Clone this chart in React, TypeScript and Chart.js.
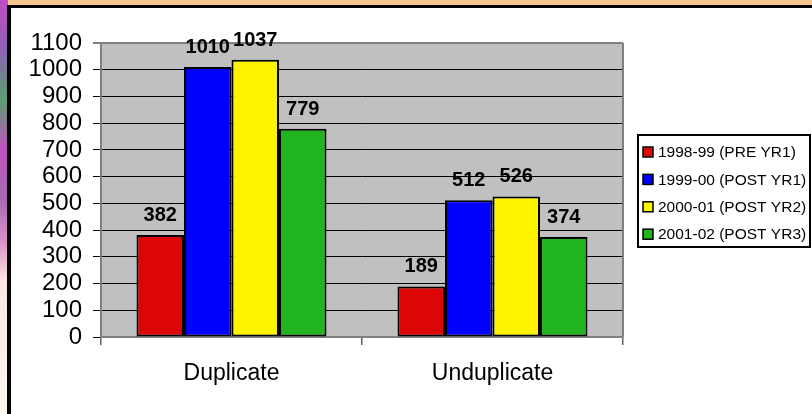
import React, { useEffect, useRef } from "react";
import { Chart, registerables } from "chart.js";

Chart.register(...registerables);

// Chart data
const categories = ["Duplicate", "Unduplicate"];
const seriesLabels = [
  "1998-99 (PRE YR1)",
  "1999-00 (POST YR1)",
  "2000-01 (POST YR2)",
  "2001-02 (POST YR3)",
];
const preYr1 = [382, 189];
const postYr1 = [1010, 512];
const postYr2 = [1037, 526];
const postYr3 = [779, 374];
const seriesColors = ["#dd0606", "#0000ff", "#fff400", "#20b41e"];
const yTicks = { min: 0, max: 1100, step: 100 };

const FONT = '"Liberation Sans", Arial, sans-serif';

// Grey plot background with a grey frame on the right
const plotBackground = {
  id: "plotBackground",
  beforeDraw(chart: any) {
    const { ctx, chartArea: a } = chart;
    ctx.save();
    ctx.fillStyle = "#c0c0c0";
    ctx.fillRect(a.left, a.top, a.right - a.left, a.bottom - a.top);
    ctx.restore();
  },
  afterDraw(chart: any) {
    const { ctx, chartArea: a } = chart;
    ctx.save();
    ctx.strokeStyle = "#808080";
    ctx.lineWidth = 2;
    ctx.beginPath();
    ctx.moveTo(a.right, a.top);
    ctx.lineTo(a.right, a.bottom);
    ctx.stroke();
    ctx.restore();
  },
};

// Bold value labels above each bar
const valueLabels = {
  id: "valueLabels",
  afterDatasetsDraw(chart: any) {
    const { ctx } = chart;
    ctx.save();
    ctx.font = `bold 20px ${FONT}`;
    ctx.fillStyle = "#000";
    ctx.textAlign = "center";
    ctx.textBaseline = "alphabetic";
    chart.data.datasets.forEach((ds: any, di: number) => {
      const meta = chart.getDatasetMeta(di);
      meta.data.forEach((bar: any, i: number) => {
        ctx.fillText(String(ds.data[i]), bar.x, bar.y - 14);
      });
    });
    ctx.restore();
  },
};

// Boxed legend to the right of the plot
const boxedLegend = {
  id: "boxedLegend",
  afterDraw(chart: any) {
    const { ctx, chartArea: a } = chart;
    const left = a.right + 15;
    const top = 127;
    const width = 172;
    const height = 112;
    ctx.save();
    ctx.fillStyle = "#fff";
    ctx.fillRect(left, top, width, height);
    ctx.strokeStyle = "#000";
    ctx.lineWidth = 2;
    ctx.strokeRect(left, top, width, height);
    ctx.font = `15.5px ${FONT}`;
    ctx.textAlign = "left";
    ctx.textBaseline = "middle";
    chart.data.datasets.forEach((ds: any, i: number) => {
      const cy = top + 17 + i * 27.4;
      ctx.fillStyle = ds.backgroundColor;
      ctx.fillRect(left + 5, cy - 5, 10, 10);
      ctx.strokeStyle = "#000";
      ctx.lineWidth = 1.5;
      ctx.strokeRect(left + 5, cy - 5, 10, 10);
      ctx.fillStyle = "#000";
      ctx.fillText(ds.label, left + 20, cy + 1);
    });
    ctx.restore();
  },
};

export default function App() {
  const canvasRef = useRef<HTMLCanvasElement>(null);

  useEffect(() => {
    if (!canvasRef.current) return;
    const values = [preYr1, postYr1, postYr2, postYr3];
    const chart = new Chart(canvasRef.current, {
      type: "bar",
      data: {
        labels: categories,
        datasets: values.map((data, i) => ({
          label: seriesLabels[i],
          data,
          backgroundColor: seriesColors[i],
          borderColor: "#000",
          borderWidth: 2,
          borderSkipped: false,
          categoryPercentage: 0.728,
          barPercentage: 1,
        })),
      },
      options: {
        responsive: false,
        animation: false,
        devicePixelRatio: 1,
        layout: { padding: { top: 35, right: 189, left: 0, bottom: 0 } },
        plugins: {
          legend: { display: false },
          tooltip: { enabled: false },
        },
        scales: {
          x: {
            grid: {
              offset: true,
              drawOnChartArea: false,
              drawTicks: true,
              tickLength: 8,
              color: "#606060",
              lineWidth: 1.5,
            },
            border: { display: true, color: "#808080", width: 2 },
            ticks: {
              color: "#000",
              font: { family: FONT, size: 23 },
              padding: 15,
            },
            afterFit(scale: any) {
              scale.height = 77;
            },
          },
          y: {
            min: yTicks.min,
            max: yTicks.max,
            grid: {
              color: (c: any) => (c.tick && c.tick.value === yTicks.max ? "#808080" : "#000"),
              lineWidth: (c: any) => (c.tick && c.tick.value === yTicks.max ? 2 : 1),
              drawTicks: true,
              tickLength: 8,
            },
            border: { display: true, color: "#808080", width: 2 },
            ticks: {
              stepSize: yTicks.step,
              autoSkip: false,
              callback: (v: any) => String(v),
              color: "#000",
              font: { family: FONT, size: 24 },
              padding: 11,
            },
            afterFit(scale: any) {
              scale.width = 90;
            },
          },
        },
      },
      plugins: [plotBackground, valueLabels, boxedLegend],
    });
    return () => chart.destroy();
  }, []);

  return (
    <div
      style={{
        position: "absolute",
        left: 0,
        top: 0,
        width: 812,
        height: 414,
        overflow: "hidden",
        background: "#f8c48e",
      }}
    >
      <div
        style={{
          position: "absolute",
          left: 0,
          top: 0,
          width: 8,
          height: 414,
          background:
            "linear-gradient(180deg, #c24cc4 0%, #8e62b4 12%, #5aa070 24%, #c052c0 36%, #a66ab0 48%, #d890c8 58%, #fde6e4 68%, #fff6ee 100%)",
        }}
      />
      <div
        style={{
          position: "absolute",
          left: 7,
          top: 5,
          width: 805,
          height: 409,
          boxSizing: "border-box",
          borderLeft: "4px solid #000",
          borderTop: "3px solid #000",
          background: "#fff",
        }}
      >
        <canvas
          ref={canvasRef}
          width={801}
          height={406}
          style={{ display: "block", width: 801, height: 406 }}
        />
      </div>
    </div>
  );
}
